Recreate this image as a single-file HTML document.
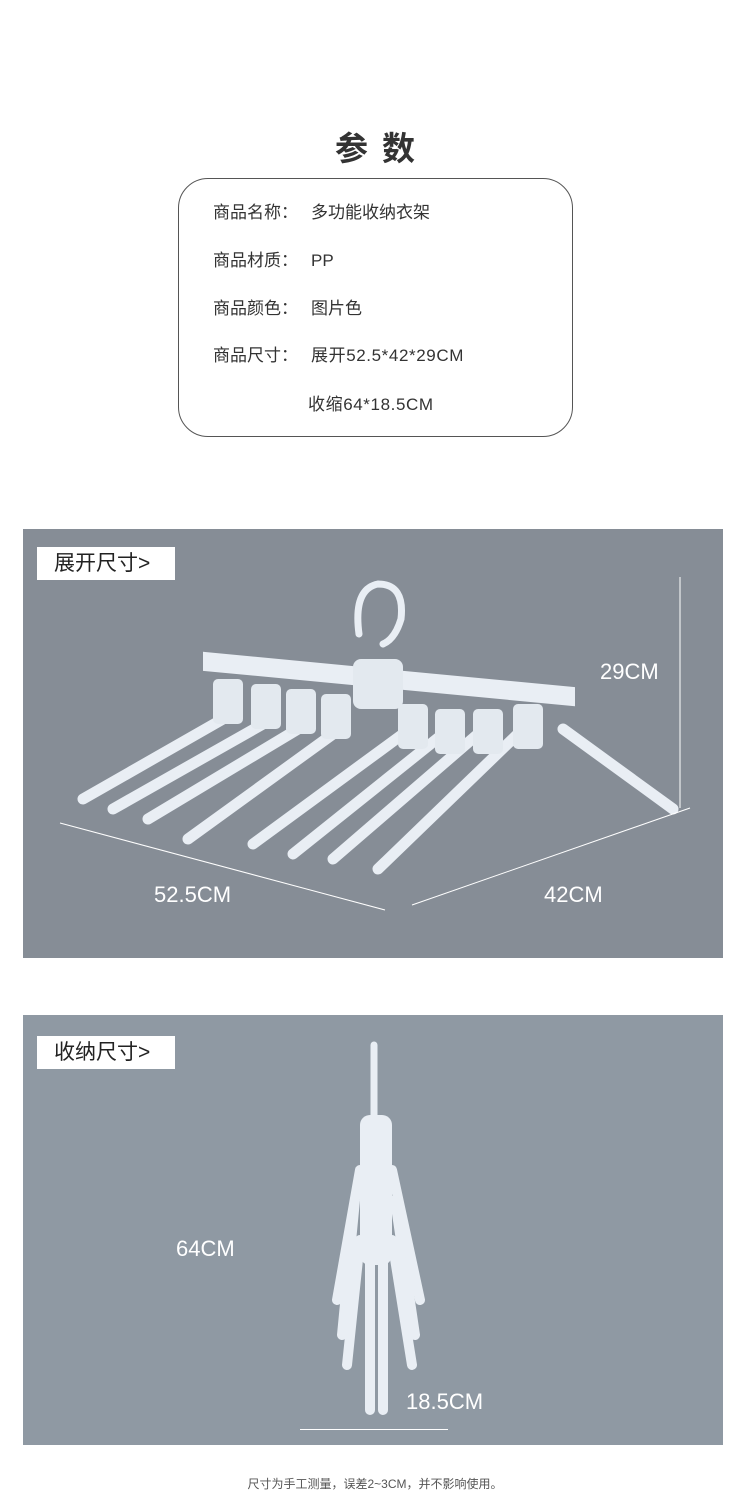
<!DOCTYPE html>
<html><head><meta charset="utf-8"><style>
body{margin:0;width:750px;height:1491px;background:#fff;position:relative;font-family:"Liberation Sans","Noto Sans CJK SC",sans-serif;overflow:hidden}
.a{position:absolute}
.t{font-size:17px;color:#333;white-space:nowrap;line-height:24px;height:24px}
.lbl{background:#fff;font-size:21px;color:#222;padding:0 0 0 17px;box-sizing:border-box;line-height:33px}
.w{color:#fff;font-size:22px}
</style></head><body>
<div class="a" style="left:0;width:750px;top:122px;text-align:center;font-size:33px;font-weight:bold;color:#333;letter-spacing:14px;padding-left:14px;box-sizing:border-box">参数</div>
<div class="a" style="left:178px;top:178px;width:395px;height:259px;border:1px solid #555;border-radius:30px;box-sizing:border-box"></div>
<div class="a t" style="left:213px;top:201px">商品名称：</div><div class="a t" style="left:311px;top:201px">多功能收纳衣架</div>
<div class="a t" style="left:213px;top:249px">商品材质：</div><div class="a t" style="left:311px;top:249px">PP</div>
<div class="a t" style="left:213px;top:297px">商品颜色：</div><div class="a t" style="left:311px;top:297px">图片色</div>
<div class="a t" style="left:213px;top:344px">商品尺寸：</div><div class="a t" style="left:311px;top:344px;letter-spacing:0.6px">展开52.5*42*29CM</div>
<div class="a t" style="left:308px;top:393px;letter-spacing:0.6px">收缩64*18.5CM</div>

<div class="a" style="left:23px;top:529px;width:700px;height:429px;background:#868d96"></div>
<div class="a lbl" style="left:37px;top:547px;width:138px;height:33px">展开尺寸&gt;</div>
<svg class="a" style="left:23px;top:529px" width="700" height="429">
<g stroke="#e9eef4" stroke-linecap="round" fill="none">
<path d="M336 105 Q330 60 355 55 Q382 55 378 90 Q372 110 360 115" stroke-width="7"/>
<g stroke-width="11">
<line x1="200" y1="190" x2="60" y2="270"/><line x1="240" y1="195" x2="90" y2="280"/>
<line x1="275" y1="200" x2="125" y2="290"/><line x1="310" y1="205" x2="165" y2="310"/>
<line x1="380" y1="205" x2="230" y2="315"/><line x1="420" y1="205" x2="270" y2="325"/>
<line x1="455" y1="205" x2="310" y2="330"/><line x1="500" y1="200" x2="355" y2="340"/>
<line x1="540" y1="200" x2="650" y2="280"/>
</g>
<path d="M182 125 L550 160 L550 175 L182 140 Z" fill="#e9eef4" stroke-width="4"/>
</g>
<g fill="#e3e9ef">
<rect x="190" y="150" width="30" height="45" rx="5"/><rect x="228" y="155" width="30" height="45" rx="5"/>
<rect x="263" y="160" width="30" height="45" rx="5"/><rect x="298" y="165" width="30" height="45" rx="5"/>
<rect x="330" y="130" width="50" height="50" rx="8"/>
<rect x="375" y="175" width="30" height="45" rx="5"/><rect x="412" y="180" width="30" height="45" rx="5"/>
<rect x="450" y="180" width="30" height="45" rx="5"/><rect x="490" y="175" width="30" height="45" rx="5"/>
</g>
<g stroke="#fff" stroke-width="1" fill="#fff">
<line x1="657" y1="48" x2="657" y2="279"/>
<line x1="37" y1="294" x2="362" y2="381"/>
<line x1="389" y1="376" x2="667" y2="279"/>
</g>
</svg>
<div class="a w" style="left:600px;top:659px">29CM</div>
<div class="a w" style="left:154px;top:882px">52.5CM</div>
<div class="a w" style="left:544px;top:882px">42CM</div>

<div class="a" style="left:23px;top:1015px;width:700px;height:430px;background:#8f99a3"></div>
<div class="a lbl" style="left:37px;top:1036px;width:138px;height:33px">收纳尺寸&gt;</div>
<svg class="a" style="left:300px;top:1030px" width="160" height="400">
<g stroke="#e9eef4" stroke-linecap="round" fill="none">
<line x1="74" y1="15" x2="74" y2="85" stroke-width="7"/>
<g stroke-width="10">
<line x1="60" y1="140" x2="37" y2="270"/><line x1="55" y1="170" x2="42" y2="305"/>
<line x1="60" y1="210" x2="47" y2="335"/><line x1="70" y1="230" x2="70" y2="380"/>
<line x1="83" y1="230" x2="83" y2="380"/><line x1="92" y1="210" x2="112" y2="335"/>
<line x1="95" y1="170" x2="115" y2="305"/><line x1="92" y1="140" x2="120" y2="270"/>
</g>
<rect x="60" y="85" width="32" height="150" rx="10" fill="#e9eef4" stroke="none"/>
</g>
</svg>
<div class="a w" style="left:176px;top:1236px">64CM</div>
<div class="a w" style="left:406px;top:1389px">18.5CM</div>
<div class="a" style="left:300px;top:1429px;width:148px;height:1px;background:#fff"></div>
<div class="a" style="left:0;width:750px;top:1475px;text-align:center;font-size:12px;color:#555">尺寸为手工测量，误差2~3CM，并不影响使用。</div>
</body></html>
